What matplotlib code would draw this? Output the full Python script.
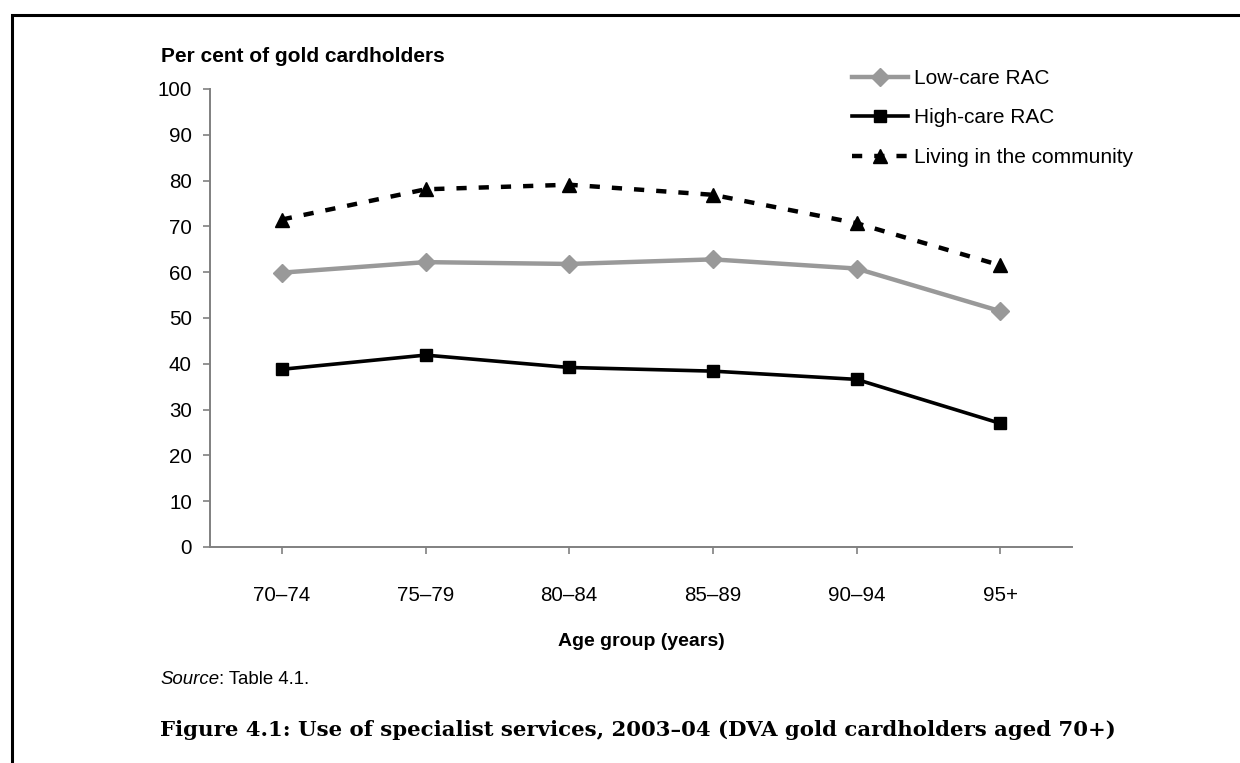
import matplotlib
matplotlib.use("Agg")
import matplotlib.pyplot as plt
from matplotlib.patches import Rectangle

plt.rcParams['font.family'] = ['Liberation Sans', 'DejaVu Sans']

# data
age_groups = ["70\u201374", "75\u201379", "80\u201384", "85\u201389", "90\u201394", "95+"]
low_care = [59.9, 62.2, 61.8, 62.8, 60.8, 51.5]
high_care = [38.8, 41.9, 39.2, 38.4, 36.6, 27.0]
community = [71.5, 78.1, 79.1, 76.9, 70.7, 61.5]
y_ticks = list(range(0, 101, 10))

fig = plt.figure(figsize=(12.4, 7.63), dpi=100)
W, H = 1240, 763
# axes placed in pixel terms: x 210..1072, y 89..547
ax = fig.add_axes([210 / W, 1 - 547 / H, (1072 - 210) / W, (547 - 89) / H])

x = list(range(len(age_groups)))
ax.plot(x, low_care, color="#999999", lw=3.2, marker="D", ms=9, label="Low-care RAC", zorder=3)
ax.plot(x, high_care, color="black", lw=2.6, marker="s", ms=9, label="High-care RAC", zorder=3)
ax.plot(x, community, color="black", lw=3.2, ls=(0, (2.3, 2.7)), marker="^", ms=10,
        label="Living in the community", zorder=3)

ax.set_xlim(-0.5, 5.5)
ax.set_ylim(0, 100)
ax.set_yticks(y_ticks)
ax.set_xticks(x)
ax.set_xticklabels(age_groups)
ax.tick_params(axis="both", labelsize=14.8, color="#808080", length=5, width=1.2, direction="out")
ax.tick_params(axis="x", pad=23)
ax.tick_params(axis="y", pad=8)
for s in ["top", "right"]:
    ax.spines[s].set_visible(False)
for s in ["left", "bottom"]:
    ax.spines[s].set_color("#808080")
    ax.spines[s].set_linewidth(1.4)

ax.set_xlabel("Age group (years)", fontsize=14, fontweight="bold", labelpad=20)
fig.text(161 / W, 1 - 57 / H, "Per cent of gold cardholders", fontsize=15, fontweight="bold",
         va="center", ha="left")

leg = ax.legend(loc="upper left", bbox_to_anchor=((852 - 210) / (1072 - 210), 1 + (89 - 69) / (547 - 89)),
                frameon=False, fontsize=15, handlelength=2.7, handletextpad=0.3,
                labelspacing=0.98, borderpad=0, borderaxespad=0)

# "Source" in italics, then the rest in upright type
narrow = ['Liberation Sans Narrow', 'Liberation Sans']
src = fig.text(160 / W, 1 - 679 / H, "Source", fontsize=13.4, style="italic", va="center", ha="left",
               family=narrow)
fig.canvas.draw()
bb = src.get_window_extent()
fig.text(bb.x1 / W, 1 - 679 / H, ": Table 4.1.", fontsize=13.4, va="center", ha="left", family=narrow)

fig.text(160 / W, 1 - 730 / H,
         "Figure 4.1: Use of specialist services, 2003\u201304 (DVA gold cardholders aged 70+)",
         fontsize=15.3, fontweight="bold", va="center", ha="left", family=['DejaVu Serif'])

# page frame
fig.patches.append(Rectangle((12 / W, -0.05), 1.2, 1 - 15 / H + 0.05, transform=fig.transFigure,
                             fill=False, edgecolor="black", lw=2.2))

fig.savefig("out.png", dpi=100)
